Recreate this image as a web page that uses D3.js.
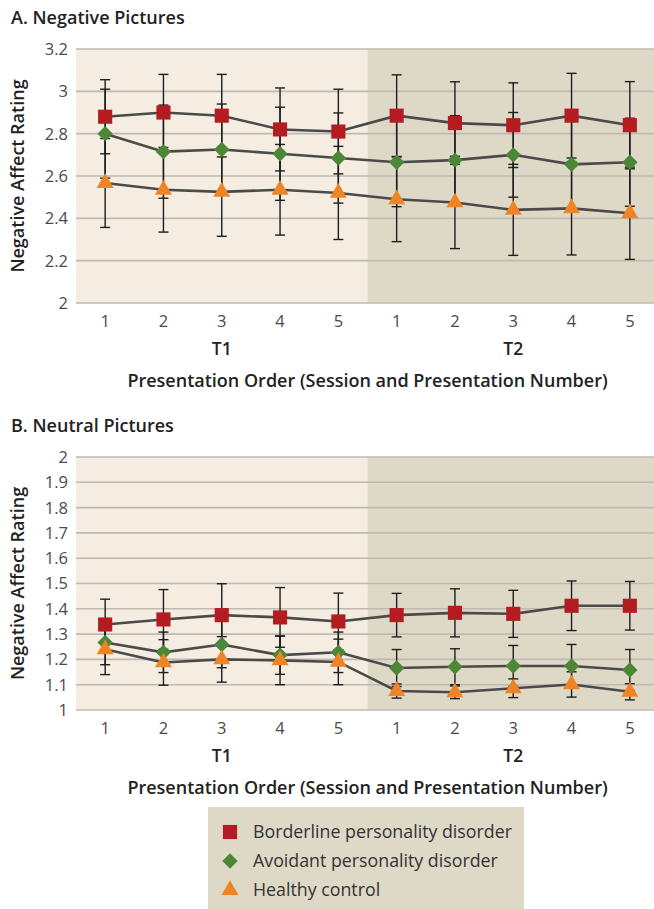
<!DOCTYPE html>
<html>
<head>
<meta charset="utf-8">
<title>Negative Affect Rating by Presentation Order</title>
<script src="https://d3js.org/d3.v7.min.js"></script>
<style>
  body { margin: 0; background: #fff; }
  text { font-family: "Open Sans", Lato, sans-serif; }
</style>
</head>
<body>
<svg width="654" height="909"></svg>
<script>
// categories: presentation number within each session
var presentations = ["1", "2", "3", "4", "5", "1", "2", "3", "4", "5"];
var sessions = ["T1", "T2"];
var groups = ["Borderline personality disorder", "Avoidant personality disorder", "Healthy control"];

// panel A: negative pictures (mean and error half-width)
var negBPD = [2.88, 2.90, 2.885, 2.82, 2.81, 2.885, 2.85, 2.84, 2.885, 2.84];
var negBPDErr = [0.175, 0.18, 0.195, 0.196, 0.20, 0.193, 0.195, 0.20, 0.20, 0.206];
var negAvPD = [2.80, 2.715, 2.725, 2.705, 2.685, 2.665, 2.675, 2.70, 2.655, 2.665];
var negAvPDErr = [0.21, 0.22, 0.215, 0.22, 0.213, 0.21, 0.21, 0.20, 0.21, 0.208];
var negHC = [2.567, 2.535, 2.525, 2.535, 2.52, 2.49, 2.475, 2.44, 2.447, 2.424];
var negHCErr = [0.21, 0.20, 0.21, 0.214, 0.22, 0.20, 0.218, 0.215, 0.22, 0.218];

// panel B: neutral pictures
var neuBPD = [1.338, 1.358, 1.375, 1.366, 1.35, 1.375, 1.384, 1.38, 1.412, 1.412];
var neuBPDErr = [0.10, 0.118, 0.124, 0.118, 0.112, 0.086, 0.095, 0.093, 0.098, 0.096];
var neuAvPD = [1.267, 1.228, 1.259, 1.217, 1.228, 1.166, 1.171, 1.174, 1.174, 1.158];
var neuAvPDErr = [0.088, 0.08, 0.092, 0.076, 0.08, 0.073, 0.071, 0.081, 0.085, 0.081];
var neuHC = [1.24, 1.188, 1.20, 1.196, 1.19, 1.075, 1.07, 1.086, 1.101, 1.072];
var neuHCErr = [0.10, 0.09, 0.09, 0.096, 0.09, 0.028, 0.025, 0.037, 0.05, 0.032];

var negTicks = [2, 2.2, 2.4, 2.6, 2.8, 3, 3.2];
var neuTicks = [1, 1.1, 1.2, 1.3, 1.4, 1.5, 1.6, 1.7, 1.8, 1.9, 2];

var colors = ["#b41c22", "#4b8736", "#ee8424"];
var lineColor = "#4a4a4a";

var svg = d3.select("svg");

var x = d3.scaleBand()
    .domain(d3.range(presentations.length))
    .range([76, 659]);

function marker(i) {
    if (i === 0) return d3.symbol().type(d3.symbolSquare).size(200)();
    if (i === 1) return d3.symbol().type(d3.symbolSquare).size(118)();
    return d3.symbol().type(d3.symbolTriangle).size(125)();
}

function drawPanel(opts) {
    var g = svg.append("g");
    var y = d3.scaleLinear().domain(opts.domain).range([opts.bottom, opts.top]);
    var mid = x(5);

    // session backgrounds
    g.append("rect")
        .attr("x", x.range()[0]).attr("y", opts.top)
        .attr("width", mid - x.range()[0]).attr("height", opts.bottom - opts.top)
        .attr("fill", "#f5ede1");
    g.append("rect")
        .attr("x", mid).attr("y", opts.top)
        .attr("width", x.range()[1] - mid).attr("height", opts.bottom - opts.top)
        .attr("fill", "#ded9c6");

    // gridlines
    g.selectAll(".grid")
        .data(opts.ticks)
        .enter().append("line")
        .attr("x1", x.range()[0]).attr("x2", x.range()[1])
        .attr("y1", function(d) { return y(d); })
        .attr("y2", function(d) { return y(d); })
        .attr("stroke", "#bebab2")
        .attr("stroke-width", 1.6);

    // y tick labels
    g.selectAll(".ylab")
        .data(opts.ticks)
        .enter().append("text")
        .attr("x", 68)
        .attr("y", function(d) { return y(d); })
        .attr("dy", "0.36em")
        .attr("text-anchor", "end")
        .attr("fill", "#4a4a4a")
        .style("font-size", "16.5px")
        .text(function(d) { return d3.format("~g")(d); });

    // x tick labels
    g.selectAll(".xlab")
        .data(presentations)
        .enter().append("text")
        .attr("x", function(d, i) { return x(i) + x.bandwidth() / 2; })
        .attr("y", opts.bottom + 24)
        .attr("text-anchor", "middle")
        .attr("fill", "#4a4a4a")
        .style("font-size", "16.5px")
        .text(function(d) { return d; });

    // session labels
    g.selectAll(".sess")
        .data(sessions)
        .enter().append("text")
        .attr("x", function(d, i) { return x(i * 5 + 2) + x.bandwidth() / 2; })
        .attr("y", opts.bottom + 52)
        .attr("text-anchor", "middle")
        .attr("fill", "#222")
        .style("font-size", "17.5px")
        .style("font-weight", "600")
        .text(function(d) { return d; });

    g.append("text")
        .attr("x", mid)
        .attr("y", opts.bottom + 84)
        .attr("text-anchor", "middle")
        .attr("fill", "#222")
        .style("font-size", "18px")
        .style("font-weight", "600")
        .text("Presentation Order (Session and Presentation Number)");

    g.append("text")
        .attr("transform", "translate(24," + (opts.top + opts.bottom) / 2 + ") rotate(-90)")
        .attr("text-anchor", "middle")
        .attr("fill", "#222")
        .style("font-size", "18px")
        .style("font-weight", "600")
        .text("Negative Affect Rating");

    g.append("text")
        .attr("x", 11)
        .attr("y", opts.top - 25)
        .attr("fill", "#222")
        .style("font-size", "18px")
        .style("font-weight", "600")
        .text(opts.title);

    var line = d3.line()
        .x(function(d, i) { return x(i) + x.bandwidth() / 2; })
        .y(function(d) { return y(d); });

    opts.series.forEach(function(s) {
        g.append("path")
            .attr("d", line(s.values))
            .attr("fill", "none")
            .attr("stroke", lineColor)
            .attr("stroke-width", 2.6);
    });

    opts.series.forEach(function(s) {
        var eb = g.append("g").attr("stroke", "#1e1e1e").attr("stroke-width", 1.4);
        s.values.forEach(function(v, i) {
            var cx = x(i) + x.bandwidth() / 2;
            var lo = y(v - s.err[i]), hi = y(v + s.err[i]);
            eb.append("line").attr("x1", cx).attr("x2", cx).attr("y1", lo).attr("y2", hi);
            eb.append("line").attr("x1", cx - 5).attr("x2", cx + 5).attr("y1", lo).attr("y2", lo);
            eb.append("line").attr("x1", cx - 5).attr("x2", cx + 5).attr("y1", hi).attr("y2", hi);
        });
    });

    opts.series.forEach(function(s, k) {
        g.selectAll(".m" + k)
            .data(s.values)
            .enter().append("path")
            .attr("d", marker(k))
            .attr("fill", colors[k])
            .attr("transform", function(d, i) {
                return "translate(" + (x(i) + x.bandwidth() / 2) + "," + y(d) + ")" + (k === 1 ? " rotate(45)" : "");
            });
    });
}

drawPanel({
    title: "A. Negative Pictures",
    top: 49, bottom: 303,
    domain: [2, 3.2], ticks: negTicks,
    series: [
        { values: negBPD, err: negBPDErr },
        { values: negAvPD, err: negAvPDErr },
        { values: negHC, err: negHCErr }
    ]
});

drawPanel({
    title: "B. Neutral Pictures",
    top: 457, bottom: 710,
    domain: [1, 2], ticks: neuTicks,
    series: [
        { values: neuBPD, err: neuBPDErr },
        { values: neuAvPD, err: neuAvPDErr },
        { values: neuHC, err: neuHCErr }
    ]
});

// legend
var legend = svg.append("g");
legend.append("rect")
    .attr("x", 208).attr("y", 807)
    .attr("width", 316).attr("height", 102)
    .attr("fill", "#ddd9c6");

var rows = legend.selectAll(".row")
    .data(groups)
    .enter().append("g")
    .attr("transform", function(d, i) { return "translate(230," + (832 + i * 29) + ")"; });

rows.append("path")
    .attr("d", function(d, i) { return marker(i); })
    .attr("fill", function(d, i) { return colors[i]; })
    .attr("transform", function(d, i) { return i === 1 ? "rotate(45)" : ""; });

rows.append("text")
    .attr("x", 23)
    .attr("dy", "0.36em")
    .attr("fill", "#333")
    .style("font-size", "17.8px")
    .text(function(d) { return d; });
</script>
</body>
</html>
